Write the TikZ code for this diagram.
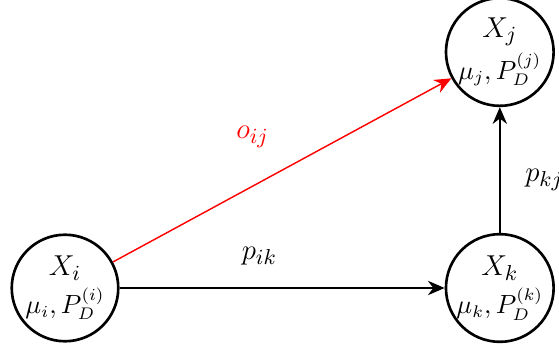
\documentclass[tikz,border=0pt]{standalone}
\usepackage{amsmath,amssymb}
\usepackage{tikz}
\usetikzlibrary{positioning,calc}
\usetikzlibrary{arrows.meta}
\newcommand{\bigtxt}{\fontsize{13.2}{15}\selectfont}
\newcommand{\subtxt}{\fontsize{10.5}{12}\selectfont}
\tikzset{
  state/.style={circle,draw=black,fill=white,line width=1.1pt,minimum size=1.56cm,
    inner sep=0pt,align=center},
  link/.style={draw=black,line width=0.6pt,-{Stealth[length=7pt,width=6pt]}},
  obs/.style={draw=red,line width=0.6pt,-{Stealth[length=7pt,width=6pt]}},
}

\begin{document}
\begin{tikzpicture}
\useasboundingbox (0,0) rectangle (8.187,5.097);
\coordinate (gi) at (0.952,0.879);
\coordinate (gk) at (7.32,0.879);
\coordinate (gj) at (7.32,4.335);
\node[state] (xi) at (gi) {{\bigtxt $X_i$}\\[2pt] {\subtxt $\mu_i, P_D^{(i)}$}};
\node[state] (xk) at (gk) {{\bigtxt $X_k$}\\[2pt] {\subtxt $\mu_k, P_D^{(k)}$}};
\node[state] (xj) at (gj) {{\bigtxt $X_j$}\\[2pt] {\subtxt $\mu_j, P_D^{(j)}$}};
\draw[link] (xi)--(xk) node[pos=0.43,above=6pt] {\bigtxt $p_{ik}$};
\draw[link] (xk)--(xj) node[pos=0.42,right=7pt] {\bigtxt $p_{kj}$};
\draw[obs] (xi)--(xj);
\node[red] (oij) at (3.7,3.09) {\bigtxt $o_{ij}$};
\end{tikzpicture}
\end{document}
